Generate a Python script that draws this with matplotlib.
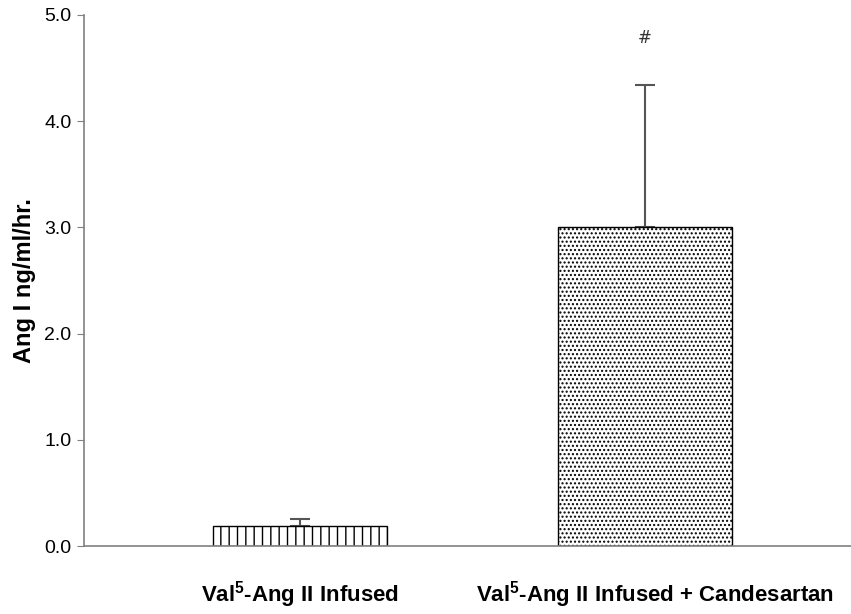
import matplotlib
matplotlib.use("Agg")
import matplotlib.pyplot as plt
from matplotlib.transforms import ScaledTranslation

# data
groups = [r"Val$^{\mathbf{5}}$-Ang II Infused",
          r"Val$^{\mathbf{5}}$-Ang II Infused + Candesartan"]
means = [0.19, 3.0]
errors = [0.06, 1.34]
hatches = ["||", "...."]
yticks = [0.0, 1.0, 2.0, 3.0, 4.0, 5.0]

plt.rcParams["font.family"] = "Liberation Sans"
plt.rcParams["mathtext.fontset"] = "custom"
plt.rcParams["mathtext.rm"] = "Liberation Sans:bold"
plt.rcParams["mathtext.bf"] = "Liberation Sans:bold"
plt.rcParams["hatch.linewidth"] = 1.0

fig = plt.figure(figsize=(8.51, 6.14), dpi=100)
ax = fig.add_axes([0.0987, 0.1107, 0.9013, 0.8649])

x = list(range(len(groups)))
for i in x:
    ax.bar(i, means[i], width=0.504, color="white", edgecolor="black",
           hatch=hatches[i], linewidth=1.0, zorder=2)
ax.errorbar(x, means, yerr=[[0] * len(errors), errors], fmt="none",
            ecolor="#555555", elinewidth=1.5, capsize=7, capthick=1.5, zorder=1)

# significance mark
ax.text(1, 4.78, "#", ha="center", va="center", fontsize=12,
        family="DejaVu Sans", color="#333333")

ax.set_xlim(-0.626, 1.597)
ax.set_ylim(0, 5.0)
ax.set_yticks(yticks)
ax.set_yticklabels(["%.1f" % v for v in yticks], fontsize=14)
ax.set_xticks(x)
ax.set_xticklabels(groups, fontsize=16, fontweight="bold")
ax.tick_params(axis="x", length=0, pad=24)
ax.tick_params(axis="y", length=5, color="#808080", pad=4)
ax.set_ylabel("Ang I ng/ml/hr.", fontsize=17, fontweight="bold")
ax.yaxis.set_label_coords(-0.0626, 0.5)

# second group label sits a little right of its bar in the reference
lab = ax.get_xticklabels()[1]
lab.set_transform(lab.get_transform() + ScaledTranslation(0.1, 0, fig.dpi_scale_trans))

for side in ["top", "right"]:
    ax.spines[side].set_visible(False)
for side in ["left", "bottom"]:
    ax.spines[side].set_color("#808080")
    ax.spines[side].set_linewidth(1.2)

fig.savefig("out.png", dpi=100)
